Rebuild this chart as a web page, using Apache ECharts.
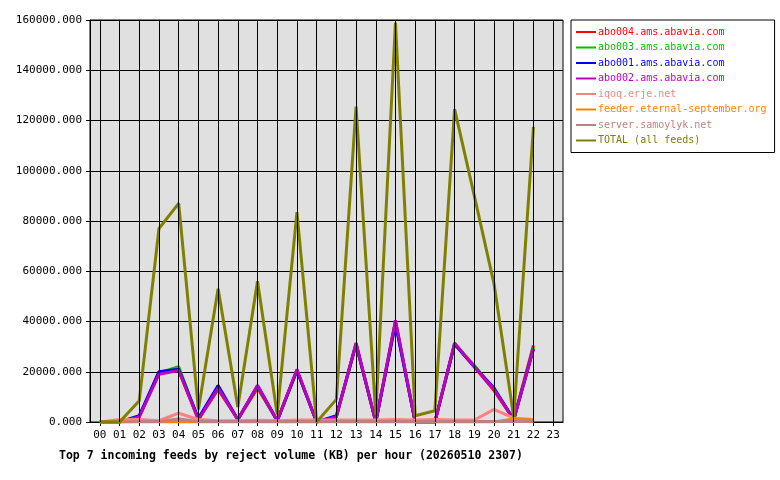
<!doctype html>
<html>
<head>
<meta charset="UTF-8">
<script src="https://cdn.jsdelivr.net/npm/echarts@6/dist/echarts.min.js"></script>
</head>
<body style="margin:0;background:#fff">
<div id="main" style="width:780px;height:480px"></div>
<script type="text/javascript">
    var hours = ['00','01','02','03','04','05','06','07','08','09','10','11','12','13','14','15','16','17','18','19','20','21','22','23'];
    var feedNames = ['abo004.ams.abavia.com','abo003.ams.abavia.com','abo001.ams.abavia.com','abo002.ams.abavia.com','iqoq.erje.net','feeder.eternal-september.org','server.samoylyk.net','TOTAL (all feeds)'];
    var feedColors = ['#ff0000','#00c000','#0000ff','#c000c0','#ff8080','#ff8000','#c08080','#808000'];
    var abo004 = [0,0,2000,20000,20500,1000,13000,1000,13500,500,20500,0,2000,31000,0,40000,0,0,31000,22000,12500,1000,30500];
    var abo003 = [0,0,2000,19500,22000,1000,13500,1000,14000,500,20500,0,2000,31000,0,40000,0,0,31000,22500,13000,1000,29500];
    var abo001 = [0,0,2500,20000,21000,1500,14500,1000,14500,500,20500,0,2500,31000,0,39000,0,0,31000,22000,13500,1000,29000];
    var abo002 = [0,0,2000,19000,20500,1000,13500,1000,14500,500,21000,0,2000,31500,0,40500,0,0,31500,22000,13000,1000,29000];
    var iqoq = [0,1000,1000,500,3500,1000,500,500,700,500,800,800,800,800,800,1000,800,1000,800,800,5000,1500,1000];
    var feeder = [0,0,0,0,0,0,0,0,0,0,0,0,0,0,0,0,0,0,0,0,0,1200,800];
    var server = [0,0,200,200,1200,200,200,200,200,200,200,200,200,200,200,200,200,200,200,200,200,200,200];
    var total = [0,0,8500,77000,87000,5000,53000,6000,56000,3000,83500,0,9000,125500,3000,159000,2500,4500,124500,90000,55000,2000,117500];
    var values = [abo004,abo003,abo001,abo002,iqoq,feeder,server,total];

    var font = 'DejaVu Sans Mono';
    var myChart = echarts.init(document.getElementById('main'));
    var series = feedNames.map(function (name, i) {
        return {
            name: name,
            type: 'line',
            data: values[i],
            showSymbol: false,
            lineStyle: {width: 3, color: feedColors[i]},
            itemStyle: {color: feedColors[i]},
            z: 3
        };
    });
    // vertical grid lines at each hour
    series.push({
        type: 'line',
        data: [],
        silent: true,
        markLine: {
            silent: true,
            symbol: 'none',
            label: {show: false},
            lineStyle: {color: '#000', width: 1, type: 'solid'},
            data: hours.map(function (h) { return {xAxis: h}; })
        },
        z: 1
    });
    var option = {
        animation: false,
        textStyle: {fontFamily: font},
        grid: {left: 90, right: 217, top: 20, bottom: 58, show: true, backgroundColor: '#e0e0e0', borderColor: '#000', borderWidth: 1},
        title: {
            text: 'Top 7 incoming feeds by reject volume (KB) per hour (20260510 2307)',
            left: 54, top: 445,
            textStyle: {fontFamily: font, fontSize: 11.5, fontWeight: 'bold', color: '#000'}
        },
        legend: {
            data: feedNames.map(function (n, i) {
                return {name: n, textStyle: {color: feedColors[i]}};
            }),
            orient: 'vertical',
            left: 571, top: 20,
            padding: [7, 8, 7, 5],
            itemGap: 5.5,
            itemWidth: 20, itemHeight: 2,
            icon: 'rect',
            borderColor: '#000', borderWidth: 1,
            textStyle: {fontFamily: font, fontSize: 10, padding: [0, 0, 0, -3]}
        },
        xAxis: {
            type: 'category',
            data: hours,
            boundaryGap: true,
            axisLine: {lineStyle: {color: '#000'}},
            axisTick: {show: true, alignWithLabel: true, length: 4, lineStyle: {color: '#000'}},
            axisLabel: {color: '#000', fontFamily: font, fontSize: 11, margin: 8},
            splitLine: {show: false}
        },
        yAxis: {
            type: 'value',
            min: 0, max: 160000, interval: 20000,
            axisLine: {show: true, lineStyle: {color: '#000'}},
            axisTick: {show: true, length: 4, lineStyle: {color: '#000'}},
            axisLabel: {color: '#000', fontFamily: font, fontSize: 11, margin: 8,
                formatter: function (v) { return v.toFixed(3); }},
            splitLine: {show: true, lineStyle: {color: '#000', width: 1}}
        },
        series: series
    };
    myChart.setOption(option);
</script>
</body>
</html>
